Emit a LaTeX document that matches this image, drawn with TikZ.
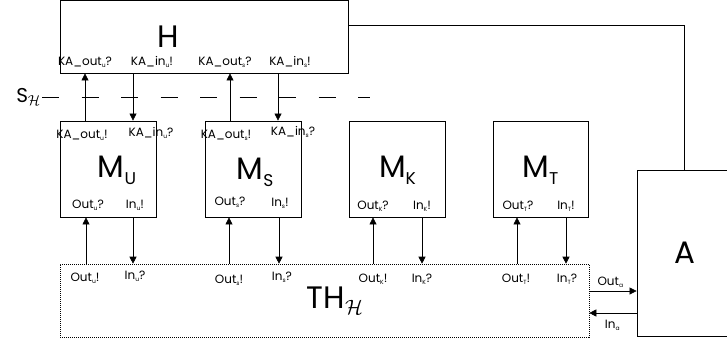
\documentclass[tikz,border=0pt]{standalone}
\usepackage{fontspec}
\setmainfont{Poppins}
\usetikzlibrary{arrows.meta, positioning, calc}

\newcommand{\subtx}[1]{\raisebox{-0.35ex}{\scalebox{0.5}{#1}}}
\newcommand{\subcap}[1]{\raisebox{-0.4ex}{\scalebox{0.55}{#1}}}

\begin{document}
\begin{tikzpicture}[
    x=1pt, y=-1pt,
    every node/.style={font=\fontsize{12}{13}\selectfont, inner sep=1pt},
    mbox/.style={draw, line width=0.8pt, minimum width=96pt, minimum height=96pt,
                 inner sep=0pt},
    big/.style={font=\fontsize{31}{33}\selectfont, inner sep=0pt},
    arr/.style={-{Triangle[length=7pt,width=7pt]}, line width=0.6pt},
    sepline/.style={line width=0.6pt, dash pattern=on 17pt off 22.5pt},
]
\useasboundingbox (0,0) rectangle (727,342);
\clip (0,0) rectangle (727,342);

% boxes
\node[draw, line width=0.8pt, minimum width=288pt, minimum height=72.5pt,
      inner sep=0pt] (H) at (204,36.75) {};
\node[mbox] (MU) at (108.5,169) {};
\node[mbox] (MS) at (253,169) {};
\node[mbox] (MK) at (397.5,169) {};
\node[mbox, minimum width=95pt] (MT) at (540.5,169) {};
\node[draw, line width=0.6pt, dash pattern=on 1pt off 1pt, minimum width=529pt,
      minimum height=73pt, inner sep=0pt] (TH) at (324.5,300.5) {};
\node[draw, line width=0.8pt, minimum width=95pt, minimum height=166pt,
      inner sep=0pt] (A) at (684.5,253) {};

% big labels
\node[big] at ($(H.center)+(-36,0)$) {H};
\node[big] at ($(MU.center)+(8.5,1)$) {M\subcap{U}};
\node[big] at ($(MS.center)+(2,3)$) {M\subcap{S}};
\node[big] at ($(MK.center)+(0,1)$) {M\subcap{K}};
\node[big] at ($(MT.center)+(0,1)$) {M\subcap{T}};
\node[big] at ($(TH.center)+(10.5,0)$) {TH$_{\mathcal{H}}$};
\node[big] at (A.center) {A};

% separation line
\coordinate (sepL) at (42,97);
\coordinate (sepR) at (370,97);
\draw[sepline] (sepL) -- (sepR);
\node[left=0pt of sepL, font=\fontsize{20}{21}\selectfont] (SH) {S$_{\mathcal{H}}$};

% H <-> M
\draw[arr] ([xshift=-23.5pt]MU.north) -- ([xshift=-23.5pt]MU.north |- H.south);
\draw[arr] ([xshift=24.5pt]MU.north |- H.south) -- ([xshift=24.5pt]MU.north);
\draw[arr] ([xshift=-23pt]MS.north) -- ([xshift=-23pt]MS.north |- H.south);
\draw[arr] ([xshift=25pt]MS.north |- H.south) -- ([xshift=25pt]MS.north);

% TH <-> M
\draw[arr] ([xshift=-22.5pt]MU.south |- TH.north) -- ([xshift=-22.5pt]MU.south);
\draw[arr] ([xshift=24.5pt]MU.south) -- ([xshift=24.5pt]MU.south |- TH.north);
\draw[arr] ([xshift=-24pt]MS.south |- TH.north) -- ([xshift=-24pt]MS.south);
\draw[arr] ([xshift=26pt]MS.south) -- ([xshift=26pt]MS.south |- TH.north);
\draw[arr] ([xshift=-24.5pt]MK.south |- TH.north) -- ([xshift=-24.5pt]MK.south);
\draw[arr] ([xshift=24.5pt]MK.south) -- ([xshift=24.5pt]MK.south |- TH.north);
\draw[arr] ([xshift=-23.5pt]MT.south |- TH.north) -- ([xshift=-23.5pt]MT.south);
\draw[arr] ([xshift=25.5pt]MT.south) -- ([xshift=25.5pt]MT.south |- TH.north);

% TH <-> A, H -- A
\draw[arr] ([yshift=9.5pt]TH.east) -- ([yshift=9.5pt]TH.east -| A.west);
\draw[arr] ([yshift=-12.5pt]TH.east -| A.west) -- ([yshift=-12.5pt]TH.east);
\draw[line width=0.8pt] ([yshift=11.5pt]H.east) -| (A.north);

% port labels on H
\node at ($(H.center)+(-119,25.5)$) {KA\_out\subtx{u}?};
\node at ($(H.center)+(-52,25.5)$) {KA\_in\subtx{u}!};
\node at ($(H.center)+(21,25.5)$) {KA\_out\subtx{s}?};
\node at ($(H.center)+(86,25)$) {KA\_in\subtx{s}!};

% port labels on M boxes
\node at ($(MU.center)+(-26.5,-34)$) {KA\_out\subtx{u}!};
\node at ($(MU.center)+(42.5,-36)$) {KA\_in\subtx{u}?};
\node at ($(MU.center)+(-20.5,36)$) {Out\subtx{u}?};
\node at ($(MU.center)+(26.5,36)$) {In\subtx{u}!};
\node at ($(MS.center)+(-27,-34)$) {KA\_out\subtx{s}!};
\node at ($(MS.center)+(40,-37)$) {KA\_in\subtx{s}?};
\node at ($(MS.center)+(-23,33)$) {Out\subtx{s}?};
\node at ($(MS.center)+(27,34)$) {In\subtx{s}!};
\node at ($(MK.center)+(-24.5,37)$) {Out\subtx{K}?};
\node at ($(MK.center)+(24.5,37)$) {In\subtx{K}!};
\node at ($(MT.center)+(-22.5,37)$) {Out\subtx{T}?};
\node at ($(MT.center)+(25.5,37)$) {In\subtx{T}!};

% port labels on TH
\node at ($(TH.center)+(-239.5,-22.5)$) {Out\subtx{u}!};
\node at ($(TH.center)+(-189.5,-24.5)$) {In\subtx{u}?};
\node at ($(TH.center)+(-95.5,-20.5)$) {Out\subtx{s}!};
\node at ($(TH.center)+(-42.5,-23.5)$) {In\subtx{s}?};
\node at ($(TH.center)+(48.5,-21.5)$) {Out\subtx{K}!};
\node at ($(TH.center)+(97.5,-21.5)$) {In\subtx{K}?};
\node at ($(TH.center)+(191.5,-21.5)$) {Out\subtx{T}!};
\node at ($(TH.center)+(242.5,-21.5)$) {In\subtx{T}?};
\node at ($(TH.east)+(21,-18)$) {Out\subtx{a}};
\node at ($(TH.east)+(23,24.5)$) {In\subtx{a}};
\end{tikzpicture}
\end{document}
